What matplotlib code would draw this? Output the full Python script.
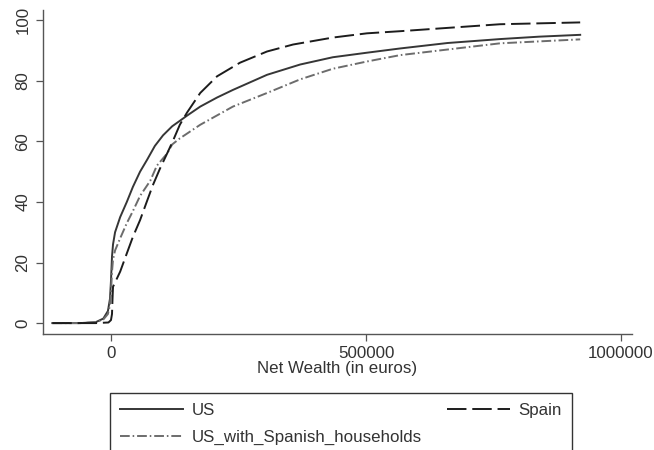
import matplotlib
matplotlib.use("Agg")
import matplotlib.pyplot as plt

plt.rcParams['font.family'] = ['Liberation Sans', 'DejaVu Sans']

# ---- data ----
x_us = [-115000, -60000, -30000, -15000, -6000, -2000, 0, 2000, 4000, 8000, 18000,
        31000, 43000, 57000, 71000, 86000, 102000, 120000, 135000, 149000, 175000,
        208000, 239000, 306000, 371000, 435000, 502000, 567000, 660000, 763000,
        840000, 920000]
y_us = [0, 0, 0.3, 1.5, 4, 8, 14, 22, 26, 30, 35,
        40, 45, 50, 54, 58.5, 62, 65, 66.8, 68.5, 71.5,
        74.5, 77, 82, 85.4, 87.8, 89.3, 90.7, 92.5, 93.8,
        94.6, 95.2]

x_sp = [-115000, -30000, -5000, 0, 2000, 3000, 4000, 18000, 31000, 43000, 57000,
        70000, 82000, 96000, 110000, 121000, 135000, 149000, 175000, 208000,
        253000, 306000, 357000, 435000, 502000, 567000, 763000, 920000]
y_sp = [0, 0, 0.2, 1, 3, 8, 12, 17, 23, 28.5, 34,
        40, 45.5, 51, 56, 60, 65.5, 69.5, 76, 81.5,
        86, 89.7, 92, 94.3, 95.7, 96.4, 98.7, 99.3]

x_uw = [-115000, -60000, -30000, -15000, -6000, -2000, 0, 2000, 4000, 8000, 18000,
        31000, 43000, 57000, 77000, 90000, 110000, 120000, 135000, 175000, 239000,
        306000, 371000, 435000, 502000, 567000, 763000, 920000]
y_uw = [0, 0, 0.3, 1.2, 3, 6, 10, 17, 21, 24, 28,
        33, 37, 42, 47, 52, 56, 59, 61, 65.5, 71.5,
        76, 80.5, 84, 86.4, 88.5, 92.4, 93.7]

series_labels = ["US", "US_with_Spanish_households", "Spain"]
x_ticks = [0, 500000, 1000000]
x_tick_labels = ["0", "500000", "1000000"]
y_ticks = [0, 20, 40, 60, 80, 100]
y_tick_labels = ["0", "20", "40", "60", "80", "100"]
x_title = "Net Wealth (in euros)"

FS = 12.2

# ---- figure ----
fig = plt.figure(figsize=(6.54, 4.50), dpi=100)
ax = fig.add_axes([43/654, 1-334/450, (632-43)/654, (334-10)/450])

l_us, = ax.plot(x_us, y_us, color='#363636', lw=1.4, linestyle='-')
l_uw, = ax.plot(x_uw, y_uw, color='#6c6c6c', lw=1.4, linestyle=(0, (5, 1.5, 0.8, 1.5)))
l_sp, = ax.plot(x_sp, y_sp, color='#1c1c1c', lw=1.4, linestyle=(0, (10, 3)))

ax.set_xlim(-133300, 1021600)
ax.set_ylim(-3.6, 103.4)

for s in ['top', 'right']:
    ax.spines[s].set_visible(False)
for s in ['left', 'bottom']:
    ax.spines[s].set_color('#555555')
    ax.spines[s].set_linewidth(1.0)

ax.set_xticks(x_ticks)
ax.set_xticklabels(x_tick_labels)
ax.set_yticks(y_ticks)
ax.set_yticklabels(y_tick_labels, rotation=90, va='center')
ax.tick_params(axis='both', direction='out', length=5, width=0.9,
               color='#555555', labelcolor='#333333', labelsize=FS)
ax.tick_params(axis='y', pad=4)
ax.tick_params(axis='x', pad=4)
ax.set_xlabel(x_title, fontsize=FS, color='#333333', labelpad=0)

leg = fig.legend([l_us, l_uw, l_sp], series_labels, ncol=2,
                 loc='upper left', bbox_to_anchor=(110/654, 1-393/450),
                 fontsize=FS, frameon=True, fancybox=False, framealpha=1,
                 edgecolor='#333333', handlelength=3.7, handletextpad=0.53,
                 columnspacing=1.5, labelspacing=0.72, borderpad=0.58,
                 borderaxespad=0)
leg.get_frame().set_linewidth(1.0)
for t in leg.get_texts():
    t.set_color('#333333')

fig.savefig('out.png', dpi=100)
